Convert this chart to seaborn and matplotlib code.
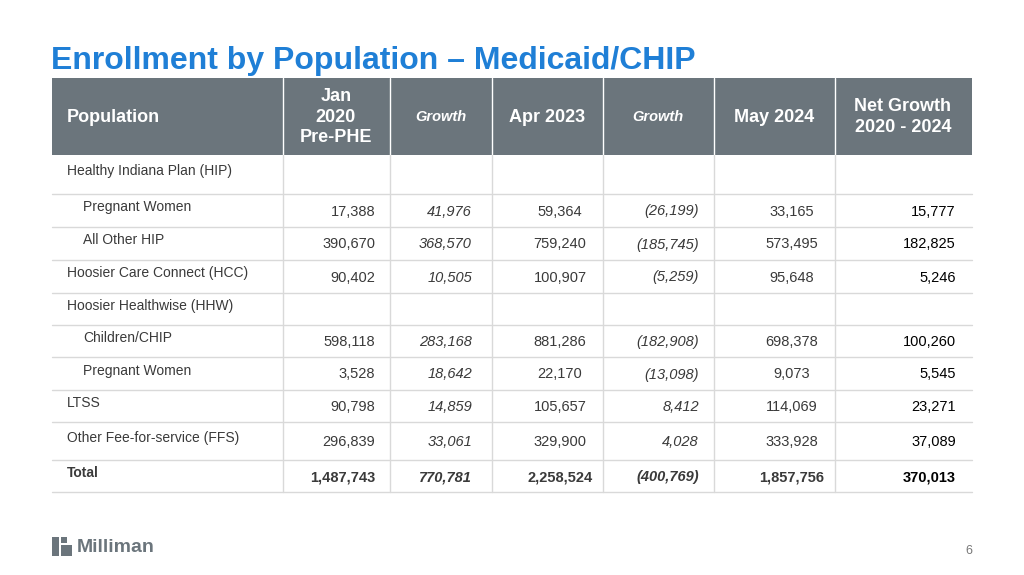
import matplotlib
matplotlib.use("Agg")
import matplotlib.pyplot as plt
import seaborn as sns
from matplotlib.patches import Rectangle

sns.set_theme(style="white")
plt.rcParams['font.family'] = ['Liberation Sans', 'DejaVu Sans']

title = "Enrollment by Population – Medicaid/CHIP"
headers = ["Population", "Jan\n2020\nPre-PHE", "Growth", "Apr 2023", "Growth", "May 2024", "Net Growth\n2020 - 2024"]
populations = ["Healthy Indiana Plan (HIP)", "Pregnant Women", "All Other HIP",
               "Hoosier Care Connect (HCC)", "Hoosier Healthwise (HHW)", "Children/CHIP",
               "Pregnant Women", "LTSS", "Other Fee-for-service (FFS)", "Total"]
indent = [0, 1, 1, 0, 0, 1, 1, 0, 0, 0]
jan2020 = ["", "17,388", "390,670", "90,402", "", "598,118", "3,528", "90,798", "296,839", "1,487,743"]
growth1 = ["", "41,976", "368,570", "10,505", "", "283,168", "18,642", "14,859", "33,061", "770,781"]
apr2023 = ["", "59,364", "759,240", "100,907", "", "881,286", "22,170", "105,657", "329,900", "2,258,524"]
growth2 = ["", "(26,199)", "(185,745)", "(5,259)", "", "(182,908)", "(13,098)", "8,412", "4,028", "(400,769)"]
may2024 = ["", "33,165", "573,495", "95,648", "", "698,378", "9,073", "114,069", "333,928", "1,857,756"]
net = ["", "15,777", "182,825", "5,246", "", "100,260", "5,545", "23,271", "37,089", "370,013"]

fig = plt.figure(figsize=(10.24, 5.75), dpi=100)
ax = fig.add_axes([0, 0, 1, 1])
ax.set_xlim(0, 1024); ax.set_ylim(575, 0); ax.axis("off")

blue = "#1f7fd6"; gray = "#6b757c"; txt = "#3a3a3a"; line = "#d9d9d9"
ax.text(51, 61, title, color=blue, fontsize=23, fontweight="bold", va="center")

cols = [52, 283, 390, 492, 603, 714, 835, 972]
rows = [155, 194, 227, 260, 293, 325, 357, 390, 422, 460, 492]
ax.add_patch(Rectangle((52, 78), 920, 77, color=gray, lw=0))
for x in cols[1:-1]:
    ax.plot([x, x], [78, 155], color="white", lw=1)
hdr_x = [67, 336, 441, 547, 658, 774, 903]
for i, h in enumerate(headers):
    italic = h == "Growth"
    ax.text(hdr_x[i], 117, h, color="white", fontsize=10.5 if italic else 13, fontweight="bold",
            fontstyle="italic" if italic else "normal",
            ha="left" if i == 0 else "center", va="center", linespacing=1.25)

for r in range(len(populations)):
    y0, y1 = rows[r], rows[r + 1]
    ym = (y0 + y1) / 2
    ax.plot([52, 972], [y1, y1], color=line, lw=1)
    for x in cols[1:-1]:
        ax.plot([x, x], [y0, y1], color=line, lw=1)
    bold = populations[r] == "Total"
    fw = "bold" if bold else "normal"
    ax.text(67 + 16 * indent[r], ym - 3, populations[r], fontsize=10, color=txt, fontweight=fw, va="center")
    specs = [(jan2020, 375, "right", "normal", txt), (growth1, 472, "right", "italic", txt),
             (apr2023, 560, "center", "normal", txt), (growth2, 699, "right", "italic", txt),
             (may2024, 792, "center", "normal", txt), (net, 956, "right", "normal", "black")]
    for vals, x, ha, st, c in specs:
        if vals[r]:
            ax.text(x, ym + 1, vals[r], fontsize=10.5, color=c, ha=ha, va="center",
                    fontstyle=st, fontweight=fw)

# logo
ax.add_patch(Rectangle((52, 537), 7, 19, color="#6b757c", lw=0))
ax.add_patch(Rectangle((61, 545), 11, 11, color="#6b757c", lw=0))
ax.add_patch(Rectangle((61, 537), 6, 6, color="#6b757c", lw=0))
ax.text(77, 547, "Milliman", fontsize=14, fontweight="bold", color="#6b757c", va="center")
ax.text(972, 551, "6", fontsize=9, color="#777777", ha="right", va="center")

fig.savefig("out.png", dpi=100)
